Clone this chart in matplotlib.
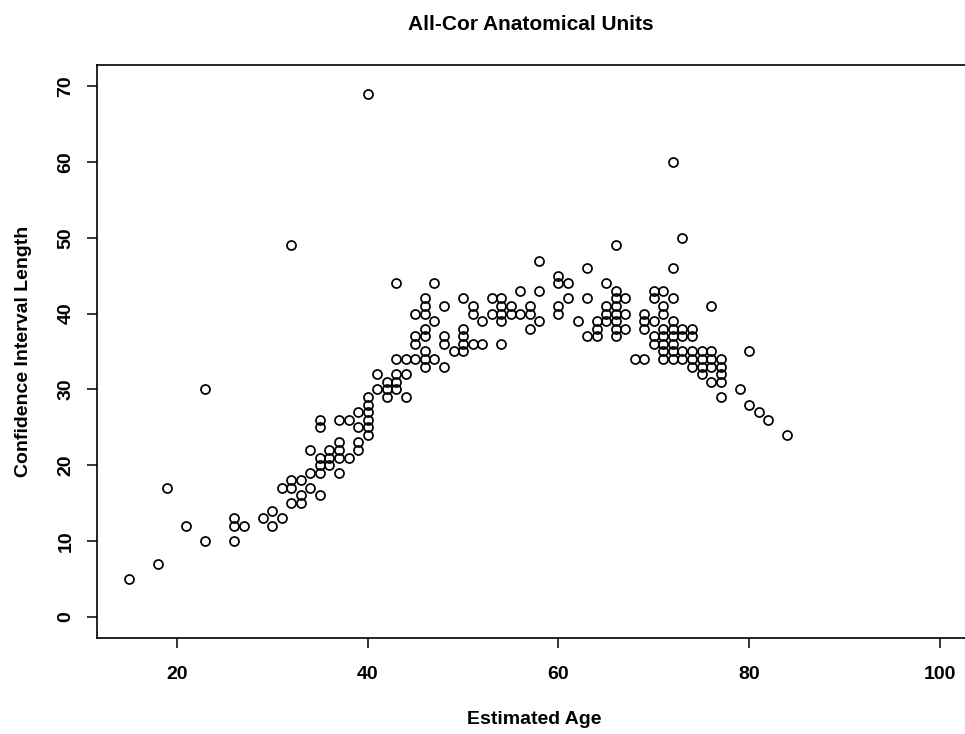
import matplotlib
matplotlib.use('Agg')
import matplotlib.pyplot as plt

# estimated age of each unit and the length of its confidence interval
ages = [15, 18, 19, 21, 23, 23, 26, 26, 26, 27, 29, 30, 30, 31, 31,
        32, 32, 32, 32, 33, 33, 33, 34, 34, 34, 35, 35, 35, 35, 35, 35,
        36, 36, 36, 37, 37, 37, 37, 37, 38, 38, 39, 39, 39, 39,
        40, 40, 40, 40, 40, 40, 40, 41, 41, 42, 42, 42,
        43, 43, 43, 43, 43, 44, 44, 44, 45, 45, 45, 45,
        46, 46, 46, 46, 46, 46, 46, 46, 47, 47, 47, 48, 48, 48, 48, 49,
        50, 50, 50, 50, 50, 51, 51, 51, 52, 52, 53, 53,
        54, 54, 54, 54, 54, 55, 55, 56, 56, 57, 57, 57, 58, 58, 58,
        60, 60, 60, 60, 61, 61, 62, 63, 63, 63, 64, 64, 64,
        65, 65, 65, 65, 66, 66, 66, 66, 66, 66, 66, 66, 67, 67, 67,
        68, 69, 69, 69, 69,
        70, 70, 70, 70, 70, 71, 71, 71, 71, 71, 71, 71, 71,
        72, 72, 72, 72, 72, 72, 72, 72, 72, 73, 73, 73, 73, 73,
        74, 74, 74, 74, 74, 75, 75, 75, 75, 76, 76, 76, 76, 76,
        77, 77, 77, 77, 77, 79, 80, 80, 81, 82, 84]
ci_length = [5, 7, 17, 12, 30, 10, 10, 12, 13, 12, 13, 14, 12, 13, 17,
             18, 17, 15, 49, 18, 15, 16, 17, 19, 22, 16, 19, 20, 21, 25, 26,
             20, 21, 22, 19, 21, 22, 23, 26, 21, 26, 22, 23, 25, 27,
             24, 25, 26, 27, 28, 29, 69, 30, 32, 29, 30, 31,
             30, 31, 32, 34, 44, 29, 32, 34, 34, 36, 37, 40,
             33, 34, 35, 37, 38, 40, 41, 42, 34, 39, 44, 33, 36, 37, 41, 35,
             35, 36, 37, 38, 42, 36, 40, 41, 36, 39, 40, 42,
             36, 39, 40, 41, 42, 40, 41, 40, 43, 38, 40, 41, 39, 43, 47,
             40, 41, 44, 45, 42, 44, 39, 37, 42, 46, 37, 38, 39,
             39, 40, 41, 44, 37, 38, 39, 40, 41, 42, 43, 49, 38, 40, 42,
             34, 34, 38, 39, 40,
             36, 37, 39, 42, 43, 34, 35, 36, 37, 38, 40, 41, 43,
             34, 35, 36, 37, 38, 39, 42, 46, 60, 34, 35, 37, 38, 50,
             33, 34, 35, 37, 38, 32, 33, 34, 35, 31, 33, 34, 35, 41,
             29, 31, 32, 33, 34, 30, 28, 35, 27, 26, 24]

x_ticks = [20, 40, 60, 80, 100]
y_ticks = [0, 10, 20, 30, 40, 50, 60, 70]

plt.rcParams['font.family'] = ['Liberation Sans', 'DejaVu Sans']
plt.rcParams['font.weight'] = 'bold'

fig = plt.figure(figsize=(9.65, 7.34), dpi=100)
ax = fig.add_axes([0.1002, 0.1308, 0.9076, 0.7807])

ax.plot(ages, ci_length, 'o', markerfacecolor='none', markeredgecolor='black',
        markersize=6.5, markeredgewidth=1.25)

# R style limits: 4% padding around 15-100 and 0-70
ax.set_xlim(11.6, 103.4)
ax.set_ylim(-2.8, 72.8)
ax.set_xticks(x_ticks)
ax.set_yticks(y_ticks)
ax.set_yticklabels([str(v) for v in y_ticks], rotation=90, va='center')
ax.tick_params(axis='both', direction='out', length=7, width=1.1,
               labelsize=14)
ax.tick_params(axis='x', pad=13)
ax.tick_params(axis='y', pad=9)
for s in ax.spines.values():
    s.set_linewidth(1.2)

ax.set_xlabel('Estimated Age', fontsize=14, fontweight='bold', labelpad=20)
ax.set_ylabel('Confidence Interval Length', fontsize=14, fontweight='bold',
              labelpad=18)
fig.text(0.55, 0.967, 'All-Cor Anatomical Units', ha='center', va='center',
         fontsize=15, fontweight='bold')

fig.savefig('out.png', dpi=100)
